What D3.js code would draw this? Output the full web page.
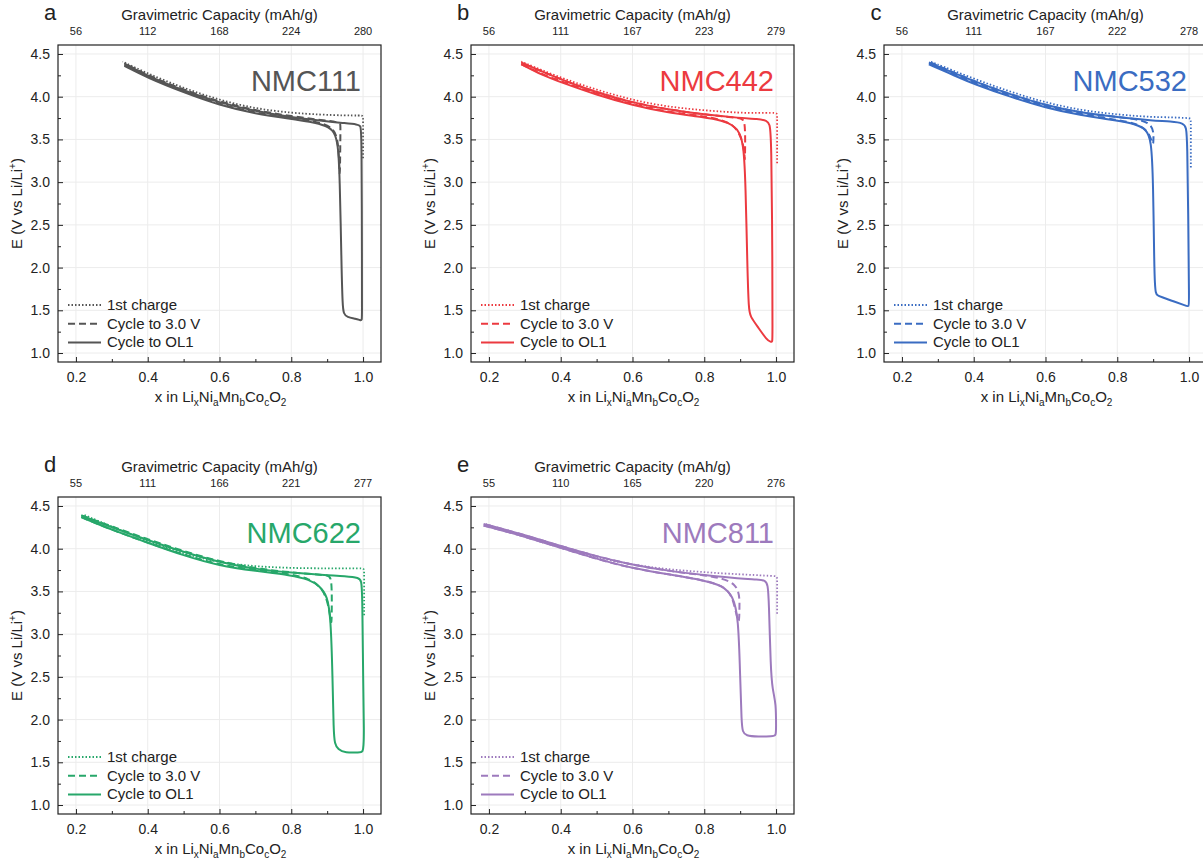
<!DOCTYPE html>
<html>
<head>
<meta charset="utf-8">
<script src="https://cdn.jsdelivr.net/npm/d3@7"></script>
<style>
  body { margin: 0; background: #fff; }
  svg { font-family: "Liberation Sans", Arial, sans-serif; display: block; }
  .grid line { stroke: #ececec; stroke-width: 1; }
  .axis path { display: none; }
  .axis line { stroke: #222; }
  .axis text { font-size: 14px; fill: #222; }
</style>
</head>
<body>
<svg id="chart" width="1203" height="863"></svg>
<script>
// x in LixNiaMnbCocO2 vs E (V vs Li/Li+), points as [x, V]

// NMC111
var charge111 = [[1.0,3.28],[1.0,3.74],[1.0,3.78],[0.99,3.78],[0.95,3.78],[0.88,3.79],[0.8,3.81],[0.7,3.86],[0.6,3.96],[0.5,4.10],[0.4,4.27],[0.33,4.41]];
var cut3V111 = [[0.335,4.37],[0.4,4.23],[0.5,4.06],[0.6,3.91],[0.7,3.81],[0.8,3.75],[0.88,3.70],[0.915,3.64],[0.93,3.52],[0.934,3.2],[0.935,3.05],[0.936,3.2],[0.937,3.65],[0.937,3.69],[0.93,3.70],[0.9,3.72],[0.8,3.77],[0.7,3.84],[0.6,3.94],[0.5,4.08],[0.4,4.25],[0.335,4.39]];
var ol1111 = [[0.335,4.36],[0.4,4.22],[0.5,4.05],[0.6,3.90],[0.7,3.80],[0.8,3.74],[0.85,3.71],[0.9,3.66],[0.92,3.59],[0.93,3.45],[0.935,3.1],[0.94,2.0],[0.943,1.55],[0.946,1.46],[0.955,1.42],[0.98,1.40],[0.992,1.385],[0.997,1.38],[0.997,1.45],[0.997,2.0],[0.996,3.6],[0.993,3.66],[0.985,3.675],[0.95,3.69],[0.9,3.71],[0.8,3.76],[0.7,3.83],[0.6,3.93],[0.5,4.07],[0.4,4.24],[0.335,4.39]];

// NMC442
var charge442 = [[1.003,3.22],[1.003,3.77],[1.003,3.81],[0.99,3.81],[0.95,3.81],[0.9,3.81],[0.8,3.84],[0.7,3.88],[0.6,3.96],[0.5,4.08],[0.4,4.22],[0.29,4.41]];
var cut3V442 = [[0.29,4.38],[0.35,4.26],[0.4,4.18],[0.5,4.03],[0.6,3.91],[0.7,3.82],[0.8,3.77],[0.86,3.72],[0.895,3.62],[0.912,3.40],[0.913,3.2],[0.914,3.4],[0.914,3.74],[0.9,3.75],[0.8,3.79],[0.7,3.85],[0.6,3.93],[0.5,4.05],[0.4,4.20],[0.29,4.40]];
var ol1442 = [[0.29,4.38],[0.35,4.25],[0.4,4.17],[0.5,4.02],[0.6,3.90],[0.7,3.81],[0.8,3.76],[0.85,3.72],[0.88,3.67],[0.9,3.58],[0.91,3.40],[0.915,3.0],[0.92,2.0],[0.924,1.5],[0.928,1.43],[0.95,1.30],[0.975,1.15],[0.985,1.13],[0.99,1.13],[0.99,1.2],[0.99,2.0],[0.987,3.55],[0.982,3.68],[0.975,3.72],[0.95,3.74],[0.9,3.75],[0.8,3.79],[0.7,3.85],[0.6,3.93],[0.5,4.05],[0.4,4.20],[0.29,4.40]];

// NMC532
var charge532 = [[1.005,3.17],[1.005,3.71],[1.005,3.75],[0.99,3.75],[0.95,3.76],[0.9,3.76],[0.8,3.79],[0.7,3.84],[0.6,3.93],[0.5,4.06],[0.4,4.21],[0.28,4.41]];
var cut3V532 = [[0.28,4.38],[0.35,4.25],[0.4,4.16],[0.5,4.01],[0.6,3.88],[0.7,3.79],[0.8,3.73],[0.86,3.68],[0.89,3.58],[0.9,3.41],[0.901,3.5],[0.901,3.72],[0.8,3.76],[0.7,3.81],[0.6,3.90],[0.5,4.03],[0.4,4.18],[0.28,4.40]];
var ol1532 = [[0.275,4.38],[0.35,4.24],[0.4,4.15],[0.5,4.00],[0.6,3.87],[0.7,3.78],[0.8,3.72],[0.85,3.68],[0.88,3.62],[0.895,3.50],[0.9,3.0],[0.903,2.0],[0.905,1.8],[0.907,1.70],[0.912,1.675],[0.92,1.66],[0.96,1.60],[0.99,1.555],[1.0,1.54],[1.0,1.6],[0.998,2.5],[0.995,3.5],[0.992,3.64],[0.985,3.69],[0.95,3.71],[0.9,3.72],[0.8,3.76],[0.7,3.81],[0.6,3.90],[0.5,4.03],[0.4,4.18],[0.275,4.40]];

// NMC622
var charge622 = [[1.003,3.22],[1.003,3.73],[1.003,3.77],[0.99,3.77],[0.95,3.77],[0.85,3.77],[0.75,3.78],[0.65,3.81],[0.55,3.88],[0.45,4.01],[0.35,4.17],[0.22,4.40]];
var cut3V622 = [[0.215,4.37],[0.3,4.22],[0.4,4.07],[0.5,3.93],[0.6,3.81],[0.7,3.75],[0.8,3.70],[0.85,3.65],[0.885,3.55],[0.905,3.35],[0.912,3.05],[0.913,3.3],[0.913,3.68],[0.9,3.69],[0.8,3.72],[0.7,3.77],[0.6,3.85],[0.5,3.97],[0.4,4.11],[0.3,4.26],[0.215,4.39]];
var ol1622 = [[0.215,4.37],[0.3,4.22],[0.4,4.07],[0.5,3.92],[0.6,3.80],[0.7,3.74],[0.8,3.69],[0.85,3.64],[0.88,3.56],[0.9,3.45],[0.91,3.2],[0.915,2.5],[0.918,1.85],[0.921,1.72],[0.93,1.65],[0.95,1.61],[0.99,1.615],[1.0,1.62],[1.001,1.7],[1.003,1.8],[1.0,2.5],[0.998,3.5],[0.995,3.62],[0.99,3.66],[0.95,3.68],[0.9,3.69],[0.8,3.72],[0.7,3.76],[0.6,3.84],[0.5,3.96],[0.4,4.10],[0.3,4.25],[0.215,4.39]];

// NMC811
var charge811 = [[1.003,3.24],[1.003,3.64],[1.003,3.68],[0.99,3.68],[0.95,3.69],[0.85,3.71],[0.75,3.74],[0.65,3.78],[0.55,3.85],[0.45,3.95],[0.35,4.08],[0.25,4.20],[0.19,4.29]];
var cut3V811 = [[0.185,4.27],[0.25,4.20],[0.3,4.14],[0.4,4.01],[0.5,3.88],[0.6,3.77],[0.7,3.70],[0.8,3.63],[0.85,3.57],[0.88,3.46],[0.897,3.05],[0.898,3.3],[0.899,3.62],[0.8,3.69],[0.7,3.74],[0.6,3.81],[0.5,3.91],[0.4,4.03],[0.3,4.16],[0.185,4.29]];
var ol1811 = [[0.185,4.27],[0.25,4.20],[0.3,4.14],[0.4,4.01],[0.5,3.88],[0.6,3.77],[0.7,3.70],[0.8,3.63],[0.85,3.57],[0.88,3.45],[0.895,3.2],[0.9,2.5],[0.904,1.95],[0.907,1.86],[0.915,1.81],[0.95,1.80],[0.99,1.805],[1.0,1.81],[1.0,1.9],[1.0,2.19],[0.99,2.35],[0.985,2.6],[0.98,3.4],[0.977,3.58],[0.97,3.63],[0.95,3.64],[0.9,3.65],[0.8,3.69],[0.7,3.74],[0.6,3.81],[0.5,3.91],[0.4,4.03],[0.3,4.16],[0.185,4.29]];

// top axis labels (capacity at x = 0.2 ... 1.0)
var cap111 = ["56","112","168","224","280"];
var cap442 = ["56","111","167","223","279"];
var cap532 = ["56","111","167","222","278"];
var cap622 = ["55","111","166","221","277"];
var cap811 = ["55","110","165","220","276"];

var xTicks = [0.2, 0.4, 0.6, 0.8, 1.0];
var xMinor = [0.3, 0.5, 0.7, 0.9];
var yTicks = [1.0, 1.5, 2.0, 2.5, 3.0, 3.5, 4.0, 4.5];
var yMinor = [1.25, 1.75, 2.25, 2.75, 3.25, 3.75, 4.25];
var legendLabels = ["1st charge", "Cycle to 3.0 V", "Cycle to OL1"];

var panels = [
  {letter:"a", name:"NMC111", color:"#555555", cap:cap111, series:[charge111, cut3V111, ol1111], col:0, row:0},
  {letter:"b", name:"NMC442", color:"#ec3a40", cap:cap442, series:[charge442, cut3V442, ol1442], col:1, row:0},
  {letter:"c", name:"NMC532", color:"#3a6cc2", cap:cap532, series:[charge532, cut3V532, ol1532], col:2, row:0},
  {letter:"d", name:"NMC622", color:"#27a76a", cap:cap622, series:[charge622, cut3V622, ol1622], col:0, row:1},
  {letter:"e", name:"NMC811", color:"#9d7abd", cap:cap811, series:[charge811, cut3V811, ol1811], col:1, row:1}
];

var width = 323, height = 317;
var dashes = ["1.5,2", "7,4", null];

var svg = d3.select("#chart");

var x = d3.scaleLinear().domain([0.15, 1.05]).range([0, width]);
var y = d3.scaleLinear().domain([0.895, 4.605]).range([height, 0]);

var line = d3.line()
    .x(function(d) { return x(d[0]); })
    .y(function(d) { return y(d[1]); })
    .curve(d3.curveBasis);

panels.forEach(function(p, pi) {
  var left = 58 + p.col * 413, top = 45 + p.row * 452;
  var g = svg.append("g").attr("transform", "translate(" + left + "," + top + ")");

  g.append("clipPath").attr("id", "clip" + pi)
    .append("rect").attr("width", width).attr("height", height);

  // grid
  g.append("g").attr("class", "grid")
    .selectAll("line.gx").data(xTicks).enter().append("line")
    .attr("x1", x).attr("x2", x).attr("y1", 0).attr("y2", height);
  g.append("g").attr("class", "grid")
    .selectAll("line.gy").data(yTicks).enter().append("line")
    .attr("y1", y).attr("y2", y).attr("x1", 0).attr("x2", width);

  // axes with inward ticks
  g.append("g").attr("class", "axis")
    .attr("transform", "translate(0," + height + ")")
    .call(d3.axisBottom(x).tickValues(xTicks).tickFormat(d3.format(".1f")).tickSize(-5).tickPadding(10));
  g.append("g").attr("class", "axis")
    .attr("transform", "translate(0," + height + ")")
    .call(d3.axisBottom(x).tickValues(xMinor).tickFormat("").tickSize(-3));
  g.append("g").attr("class", "axis")
    .call(d3.axisLeft(y).tickValues(yTicks).tickFormat(d3.format(".1f")).tickSize(-5).tickPadding(8));
  g.append("g").attr("class", "axis")
    .call(d3.axisLeft(y).tickValues(yMinor).tickFormat("").tickSize(-3));

  // top capacity labels
  g.selectAll("text.cap").data(xTicks).enter().append("text")
    .attr("x", x).attr("y", -10)
    .attr("text-anchor", "middle")
    .style("font-size", "11px").style("fill", "#222")
    .text(function(d, i) { return p.cap[i]; });

  g.append("text")
    .attr("x", width / 2).attr("y", -25)
    .attr("text-anchor", "middle")
    .style("font-size", "15px").style("fill", "#222")
    .text("Gravimetric Capacity (mAh/g)");

  g.append("text")
    .attr("x", -8).attr("y", -25)
    .attr("text-anchor", "middle")
    .style("font-size", "22px").style("fill", "#222")
    .text(p.letter);

  // frame
  g.append("rect").attr("width", width).attr("height", height)
    .attr("fill", "none").attr("stroke", "#222").attr("stroke-width", 1.2);

  // curves
  var curves = g.append("g").attr("clip-path", "url(#clip" + pi + ")");
  p.series.forEach(function(s, si) {
    curves.append("path")
      .datum(s)
      .attr("d", line)
      .attr("fill", "none")
      .attr("stroke", p.color)
      .attr("stroke-width", si === 0 ? 1.8 : 2)
      .attr("stroke-dasharray", dashes[si]);
  });

  // panel name
  g.append("text")
    .attr("x", 303).attr("y", 46)
    .attr("text-anchor", "end")
    .style("font-size", "29px").style("fill", p.color)
    .text(p.name);

  // legend
  legendLabels.forEach(function(lab, li) {
    var ly = 260 + li * 18.7;
    g.append("line")
      .attr("x1", 10).attr("x2", 43).attr("y1", ly).attr("y2", ly)
      .attr("stroke", p.color).attr("stroke-width", li === 0 ? 1.8 : 2)
      .attr("stroke-dasharray", dashes[li]);
    g.append("text")
      .attr("x", 49).attr("y", ly + 5)
      .style("font-size", "15px").style("fill", "#222")
      .text(lab);
  });

  // x title with subscripts
  var xt = g.append("text")
    .attr("x", width / 2 + 1).attr("y", height + 40)
    .attr("text-anchor", "middle")
    .style("font-size", "15px").style("fill", "#222");
  [["x in Li", false], ["x", true], ["Ni", false], ["a", true], ["Mn", false], ["b", true],
   ["Co", false], ["c", true], ["O", false], ["2", true]].forEach(function(t) {
    var ts = xt.append("tspan").text(t[0]);
    if (t[1]) ts.attr("dy", 4).style("font-size", "10px");
    else ts.attr("dy", xt.selectAll("tspan").size() > 1 ? -4 : 0);
  });

  // y title with superscript
  var yt = g.append("text")
    .attr("transform", "translate(-36," + height / 2 + ") rotate(-90)")
    .attr("text-anchor", "middle")
    .style("font-size", "15px").style("fill", "#222");
  yt.append("tspan").text("E (V vs Li/Li");
  yt.append("tspan").attr("dy", -6).style("font-size", "10px").text("+");
  yt.append("tspan").attr("dy", 6).text(")");
});
</script>
</body>
</html>
